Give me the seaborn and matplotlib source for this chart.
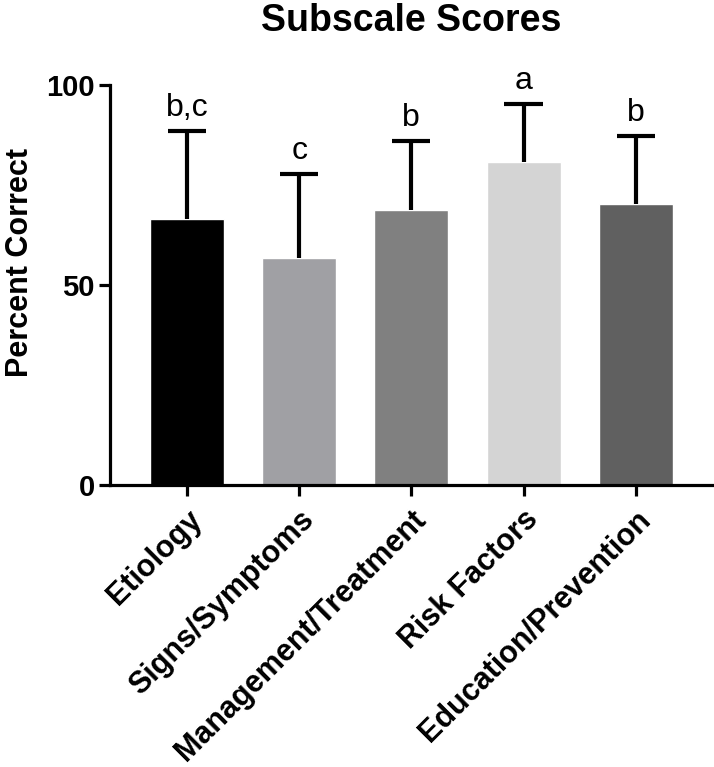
import numpy as np
import pandas as pd
import matplotlib
matplotlib.use('Agg')
import matplotlib.pyplot as plt
import seaborn as sns

categories = ['Etiology', 'Signs/Symptoms', 'Management/Treatment', 'Risk Factors', 'Education/Prevention']
means = [66.5, 56.8, 68.8, 80.8, 70.2]
sds = [22.0, 21.0, 17.3, 14.5, 17.1]
letters = ['b,c', 'c', 'b', 'a', 'b']
bar_colors = ['#000000', '#a0a0a4', '#808080', '#d4d4d4', '#606060']

sns.set_theme(style='ticks')
plt.rcParams['font.family'] = ['Liberation Sans', 'DejaVu Sans']
plt.rcParams['text.color'] = 'black'
plt.rcParams['axes.labelcolor'] = 'black'
plt.rcParams['xtick.color'] = 'black'
plt.rcParams['ytick.color'] = 'black'

df = pd.DataFrame({'cat': categories, 'mean': means})

fig = plt.figure(figsize=(7.14, 7.67), dpi=100)
ax = fig.add_axes([110 / 714, 1 - 485 / 767, 602 / 714, 400 / 767])

sns.barplot(data=df, x='cat', y='mean', hue='cat', palette=bar_colors,
            legend=False, width=0.66, saturation=1, ax=ax, zorder=2)

x = np.arange(len(categories))
tops = np.array(means) + np.array(sds)
# upper-only error bars with caps
ax.vlines(x, means, tops, color='black', linewidth=3, zorder=3)
ax.hlines(tops, x - 0.17, x + 0.17, color='black', linewidth=3, zorder=3)

for xi, t, lab in zip(x, tops, letters):
    ax.text(xi, t + 2.0, lab, ha='center', va='bottom', fontsize=23, color='black')

ax.set_xlim(-0.686, 4.68)
ax.set_ylim(0, 100)
ax.set_yticks([0, 50, 100])
ax.set_xlabel('')
ax.set_ylabel('Percent Correct', fontsize=22, fontweight='bold', color='black')
ax.yaxis.set_label_coords(-0.125, 0.557)
ax.set_title('Subscale Scores', fontsize=27, fontweight='bold', pad=39, color='black')

for lbl in ax.get_yticklabels():
    lbl.set_fontsize(21)
    lbl.set_fontweight('bold')
ax.set_xticks(x)
ax.set_xticklabels(categories, rotation=45, ha='right', rotation_mode='anchor',
                   fontsize=22, fontweight='bold')

sns.despine(ax=ax)
for s in ['left', 'bottom']:
    ax.spines[s].set_linewidth(2.3)
    ax.spines[s].set_color('black')
ax.tick_params(axis='both', width=2.3, length=8, color='black', direction='out')
ax.tick_params(axis='y', pad=3)
ax.tick_params(axis='x', pad=6)

fig.savefig('out.png', dpi=100)
